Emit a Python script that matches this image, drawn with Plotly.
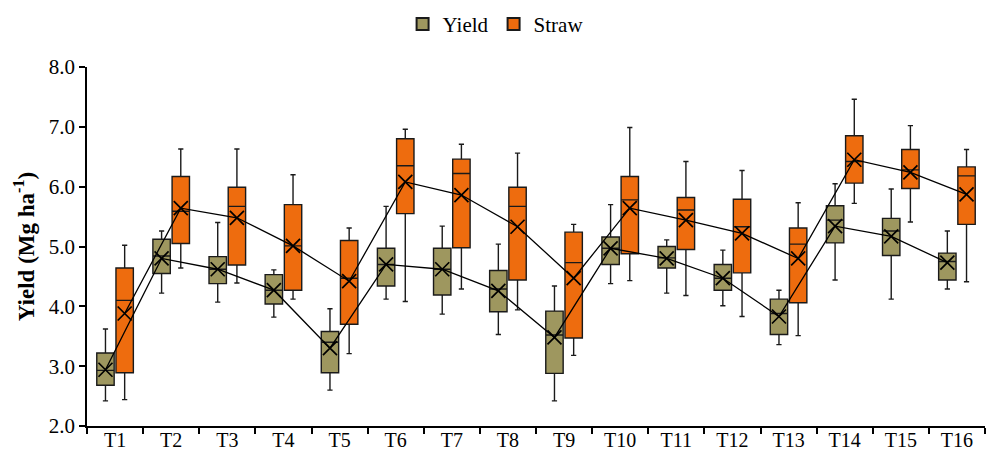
import plotly.graph_objects as go

# Treatments
treatments = [f"T{i}" for i in range(1, 17)]

# Grain yield (Mg ha-1): box statistics per treatment
yield_lower = [2.42, 4.22, 4.07, 3.82, 2.60, 4.12, 3.87, 3.53, 2.42, 4.38, 4.22, 4.01, 3.36, 4.44, 4.12, 4.29]
yield_q1 = [2.68, 4.55, 4.38, 4.04, 2.89, 4.34, 4.19, 3.91, 2.88, 4.70, 4.64, 4.27, 3.53, 5.06, 4.85, 4.44]
yield_median = [2.93, 4.84, 4.62, 4.27, 3.40, 4.70, 4.62, 4.29, 3.52, 4.97, 4.81, 4.47, 3.88, 5.44, 5.26, 4.75]
yield_q3 = [3.22, 5.12, 4.83, 4.53, 3.58, 4.97, 4.97, 4.60, 3.92, 5.16, 5.00, 4.70, 4.12, 5.68, 5.47, 4.89]
yield_upper = [3.62, 5.26, 5.40, 4.61, 3.96, 5.67, 5.34, 5.04, 4.34, 5.70, 5.11, 4.94, 4.27, 6.05, 5.96, 5.26]
yield_mean = [2.94, 4.80, 4.62, 4.27, 3.30, 4.70, 4.62, 4.26, 3.48, 4.97, 4.80, 4.47, 3.83, 5.34, 5.17, 4.73]

# Straw yield (Mg ha-1): box statistics per treatment
straw_lower = [2.44, 4.64, 4.39, 4.12, 3.21, 4.08, 4.29, 3.94, 3.18, 4.43, 4.18, 3.83, 3.51, 5.72, 5.41, 4.41]
straw_q1 = [2.89, 5.05, 4.69, 4.27, 3.70, 5.55, 4.98, 4.44, 3.47, 4.88, 4.95, 4.56, 4.06, 6.06, 5.97, 5.37]
straw_median = [4.10, 5.59, 5.67, 5.01, 4.47, 6.35, 6.22, 5.67, 4.73, 5.78, 5.61, 5.33, 5.04, 6.42, 6.28, 6.18]
straw_q3 = [4.64, 6.17, 5.99, 5.70, 5.10, 6.80, 6.46, 5.99, 5.24, 6.17, 5.82, 5.79, 5.31, 6.85, 6.62, 6.33]
straw_upper = [5.02, 6.63, 6.63, 6.20, 5.31, 6.96, 6.71, 6.56, 5.37, 6.99, 6.42, 6.27, 5.73, 7.46, 7.02, 6.62]
straw_mean = [3.88, 5.64, 5.48, 5.01, 4.42, 6.08, 5.86, 5.33, 4.47, 5.64, 5.44, 5.22, 4.80, 6.45, 6.24, 5.87]

FONT = "Liberation Serif"
YIELD_COLOR = "#9e975f"
STRAW_COLOR = "#ee6c0e"
EDGE = "#1a1a1a"

# side-by-side layout within each treatment slot
OFFSET = 0.171
BOX_W = 0.31
idx = list(range(len(treatments)))
pos_yield = [i - OFFSET for i in idx]
pos_straw = [i + OFFSET for i in idx]

fig = go.Figure()

series = [
    ("Yield", pos_yield, yield_lower, yield_q1, yield_median, yield_q3, yield_upper, yield_mean, YIELD_COLOR),
    ("Straw", pos_straw, straw_lower, straw_q1, straw_median, straw_q3, straw_upper, straw_mean, STRAW_COLOR),
]

for name, pos, lo, q1, med, q3, hi, mean, color in series:
    fig.add_trace(go.Box(
        name=name, x=pos, q1=q1, median=med, q3=q3,
        lowerfence=lo, upperfence=hi,
        width=BOX_W, whiskerwidth=0.3,
        fillcolor=color, line=dict(color=EDGE, width=1.4),
        boxpoints=False, xaxis="x", yaxis="y",
    ))

for name, pos, lo, q1, med, q3, hi, mean, color in series:
    fig.add_trace(go.Scatter(
        x=pos, y=mean, mode="lines+markers", showlegend=False,
        line=dict(color="black", width=1.3),
        marker=dict(symbol="x-thin", size=14, line=dict(color="black", width=1.7)),
        xaxis="x2", yaxis="y",
    ))

XR = [-0.5, len(treatments) - 0.5]

fig.update_layout(
    width=989, height=461,
    margin=dict(l=87, r=4, t=65, b=35),
    paper_bgcolor="white", plot_bgcolor="white",
    font=dict(family=FONT, size=21, color="black"),
    showlegend=True,
    legend=dict(
        orientation="h", x=0.455, xanchor="center", y=1.119, yanchor="middle",
        font=dict(family=FONT, size=21, color="black"),
        itemsizing="constant", bgcolor="rgba(0,0,0,0)", itemwidth=30,
    ),
    # boundary ticks between treatments
    xaxis=dict(
        range=XR, tickmode="array",
        tickvals=[i - 0.5 for i in range(len(treatments) + 1)],
        showticklabels=False, ticks="outside", ticklen=6, tickwidth=1.5, tickcolor="black",
        showline=True, linecolor="black", linewidth=1.5, showgrid=False, zeroline=False,
    ),
    # treatment labels centred in each slot
    xaxis2=dict(
        range=XR, overlaying="x", anchor="y", side="bottom", tickmode="array",
        tickvals=idx, ticktext=treatments, ticks="", showline=False,
        showgrid=False, zeroline=False,
        tickfont=dict(family=FONT, size=20, color="black"),
    ),
    yaxis=dict(
        range=[2, 8], dtick=1, tickformat=".1f",
        ticks="outside", ticklen=6, tickwidth=1.5, tickcolor="black",
        showline=True, linecolor="black", linewidth=1.5, showgrid=False, zeroline=False,
        tickfont=dict(family=FONT, size=21, color="black"),
        title=dict(text="<b>Yield (Mg ha<sup>-1</sup>)</b>", font=dict(family=FONT, size=23), standoff=8),
    ),
)

fig.write_html("out.html")
